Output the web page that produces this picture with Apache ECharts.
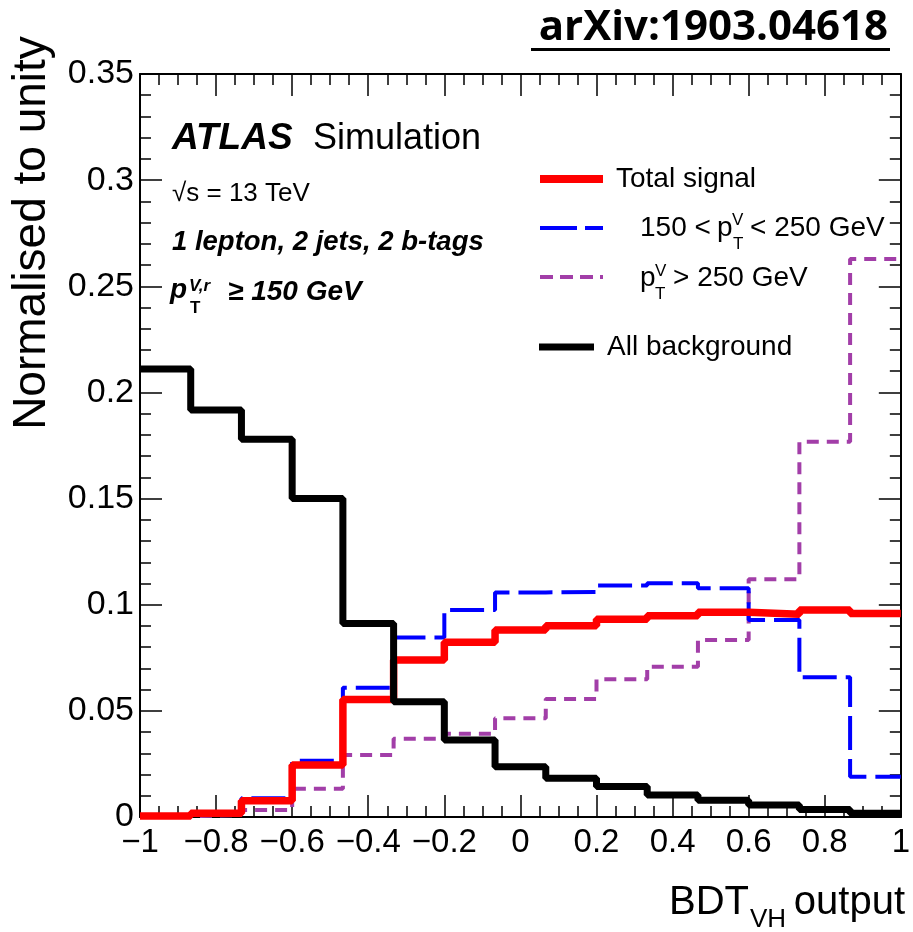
<!DOCTYPE html>
<html><head><meta charset="utf-8">
<script src="https://cdn.jsdelivr.net/npm/echarts@6/dist/echarts.min.js"></script>
<style>html,body{margin:0;padding:0;background:#fff}#c{width:913px;height:932px}</style>
</head><body><div id="c"></div>
<script>
// Bin edges of the BDT_VH output histogram (15 bins from -1 to 1)
const binEdges = [-1, -0.86667, -0.73333, -0.6, -0.46667, -0.33333, -0.2, -0.06667, 0.06667, 0.2, 0.33333, 0.46667, 0.6, 0.73333, 0.86667, 1];
// Normalised contents per bin
const totalSignal   = [0.0005, 0.0018, 0.0077, 0.0245, 0.0554, 0.0740, 0.0823, 0.0881, 0.0901, 0.0931, 0.0948, 0.0964, 0.0955, 0.0975, 0.0959];
const lowPtSignal   = [0.0005, 0.0019, 0.0088, 0.0265, 0.0609, 0.0846, 0.0975, 0.1058, 0.1060, 0.1090, 0.1101, 0.1077, 0.0928, 0.0658, 0.0190];
const highPtSignal  = [0.0003, 0.0010, 0.0033, 0.0133, 0.0292, 0.0369, 0.0392, 0.0465, 0.0556, 0.0649, 0.0708, 0.0834, 0.1120, 0.1768, 0.2628];
const allBackground = [0.2110, 0.1917, 0.1780, 0.1500, 0.0912, 0.0543, 0.0363, 0.0237, 0.0182, 0.0144, 0.0104, 0.0079, 0.0056, 0.0035, 0.0018];

const FONT = '"Liberation Sans", Arial, Helvetica, sans-serif';
const MID = 0.3465; // canvas 'middle' baseline offset (em) for Liberation Sans

function hist(vals) {
  const pts = vals.map((v, i) => [binEdges[i], v]);
  pts.push([binEdges[binEdges.length - 1], vals[vals.length - 1]]);
  return pts;
}

function txt(text, x, baseline, size, opt) {
  opt = opt || {};
  return {
    type: 'text', x: x, y: baseline - MID * size, silent: true,
    style: {
      text: text,
      font: (opt.italic ? 'italic ' : '') + (opt.bold ? 'bold ' : '') + size + 'px ' + (opt.family || FONT),
      fill: opt.color || '#000',
      align: opt.align || 'left',
      verticalAlign: 'middle'
    }
  };
}
function seg(x1, x2, y, color, w, dash) {
  return { type: 'line', silent: true, shape: { x1: x1, y1: y, x2: x2, y2: y },
    style: { stroke: color, lineWidth: w, lineDash: dash || null } };
}

const tickLine = { color: '#000', width: 1.5 };
const axisLine = { show: true, onZero: false, lineStyle: { color: '#000', width: 2 } };

function xAx(pos, labels) {
  return {
    type: 'value', min: -1, max: 1, interval: 0.2, position: pos,
    axisLine: axisLine,
    axisTick: { show: true, inside: true, length: 22, lineStyle: tickLine },
    minorTick: { show: true, splitNumber: 4, length: 11, lineStyle: tickLine },
    splitLine: { show: false }, minorSplitLine: { show: false },
    axisLabel: labels ? {
      show: true, color: '#000', fontSize: 33, fontFamily: FONT, margin: 9,
      showMinLabel: true, showMaxLabel: true,
      formatter: v => { const a = Math.abs(+(+v).toFixed(2)); return (v < -1e-9 ? '\u2212' : '') + a; }
    } : { show: false }
  };
}
function yAx(pos, labels) {
  return {
    type: 'value', min: 0, max: 0.35, interval: 0.05, position: pos,
    axisLine: axisLine,
    axisTick: { show: true, inside: true, length: 22, lineStyle: tickLine },
    minorTick: { show: true, splitNumber: 5, length: 11, lineStyle: tickLine },
    splitLine: { show: false }, minorSplitLine: { show: false },
    axisLabel: labels ? {
      show: true, color: '#000', fontSize: 34, fontFamily: FONT, margin: 6,
      showMinLabel: true, showMaxLabel: true,
      formatter: v => String(+(+v).toFixed(2))
    } : { show: false }
  };
}

const chart = echarts.init(document.getElementById('c'), null, { renderer: 'canvas' });
chart.setOption({
  animation: false,
  backgroundColor: '#fff',
  grid: { left: 140, right: 9, top: 74, bottom: 115, containLabel: false },
  xAxis: [xAx('bottom', true), xAx('top', false)],
  yAxis: [yAx('left', true), yAx('right', false)],
  series: [
    { name: 'p_T^V > 250 GeV', type: 'line', step: 'end', data: hist(highPtSignal), symbol: 'none', clip: false, z: 2,
      lineStyle: { color: '#a23ea8', width: 4, type: [12, 8] } },
    { name: '150 < p_T^V < 250 GeV', type: 'line', step: 'end', data: hist(lowPtSignal), symbol: 'none', clip: false, z: 3,
      lineStyle: { color: '#0000ff', width: 4, type: [34, 9] } },
    { name: 'Total signal', type: 'line', step: 'end', data: hist(totalSignal), symbol: 'none', clip: false, z: 4,
      lineStyle: { color: '#ff0000', width: 7.5 } },
    { name: 'All background', type: 'line', step: 'end', data: hist(allBackground), symbol: 'none', clip: false, z: 5,
      lineStyle: { color: '#000000', width: 7 } }
  ],
  graphic: [
    // arXiv tag
    txt('arXiv:1903.04618', 888, 43, 42, { bold: true, align: 'right', family: '"Open Sans", "DejaVu Sans", sans-serif' }),
    { type: 'line', silent: true, shape: { x1: 531, y1: 49.5, x2: 890, y2: 49.5 }, style: { stroke: '#000', lineWidth: 3 } },
    // Y title
    { type: 'text', x: 48 - MID * 46, y: 233, rotation: Math.PI / 2, silent: true,
      style: { text: 'Normalised to unity', font: '46px ' + FONT, fill: '#000', align: 'center', verticalAlign: 'middle' } },
    // X title
    txt('BDT', 749, 917, 40, { align: 'right' }),
    txt('VH', 750, 929, 26),
    txt('output', 905, 917, 40, { align: 'right' }),
    // ATLAS labels
    txt('ATLAS', 172, 152, 37, { bold: true, italic: true }),
    txt('Simulation', 313, 152, 36),
    txt('\u221As = 13 TeV', 172, 203, 26),
    txt('1 lepton, 2 jets, 2 b-tags', 172, 252, 27.5, { bold: true, italic: true }),
    txt('p', 170, 300, 28, { bold: true, italic: true }),
    txt('T', 190, 314, 17, { bold: true }),
    txt('V,r', 189, 292, 17, { bold: true, italic: true }),
    txt('\u2265 150 GeV', 228, 302, 28, { bold: true, italic: true }),
    // Legend
    seg(540, 603, 179, '#ff0000', 8),
    txt('Total signal', 616, 189, 28),
    seg(540, 603, 228, '#0000ff', 4, [37, 8]),
    txt('150 < ', 640, 238, 28),
    txt('p', 717, 238, 28),
    txt('V', 732, 226, 17),
    txt('T', 733, 250, 17),
    txt('< 250 GeV', 750, 238, 28),
    seg(540, 603, 277, '#a23ea8', 4, [13, 7]),
    txt('p', 640, 288, 28),
    txt('V', 655, 277, 17),
    txt('T', 655, 300, 17),
    txt('> 250 GeV', 673, 288, 28),
    seg(539, 594, 347, '#000000', 7),
    txt('All background', 607, 357, 28)
  ]
});
</script>
</body></html>
